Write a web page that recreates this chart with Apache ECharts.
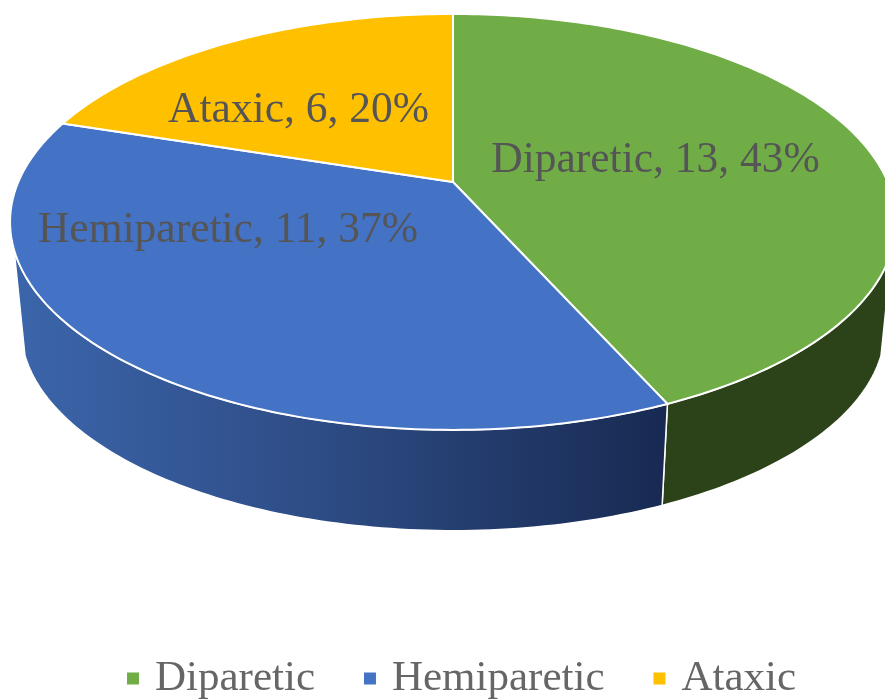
<!DOCTYPE html>
<html>
<head>
<meta charset="utf-8">
<style>html,body{margin:0;padding:0;background:#fff}#chart{width:885px;height:699px}</style>
<script src="https://cdn.jsdelivr.net/npm/echarts@6/dist/echarts.min.js"></script>
</head>
<body>
<div id="chart"></div>
<script>
const categories = ['Diparetic', 'Hemiparetic', 'Ataxic'];
const counts = [13, 11, 6];
const percents = [43, 37, 20];

// Styling and layout, separate from the data
const topColors = ['#70AD47', '#4472C4', '#FFC000'];
const labelCentres = [[655.5, 161], [228, 231], [298.5, 111]];
const labelFont = '43.5px "Liberation Serif", serif';
const labelColor = '#555555';
const topPlane = { cx: 453, cy: 182, rx: 434.7, ry: 200.3, k: 0.192 };
const basePlane = { cx: 453, cy: 289, rx: 424, ry: 195.3, k: 0.192 };
const wallFrom = 108.6, wallTo = 251.4; // visible front of the side wall, degrees

const wallFills = [
  '#2C4319',
  new echarts.graphic.LinearGradient(20, 0, 665, 0, [
    { offset: 0, color: '#3B65AA' },
    { offset: 0.43, color: '#2F4E88' },
    { offset: 1, color: '#182A52' }
  ], true)
];

const total = counts.reduce((a, b) => a + b, 0);
const starts = counts.map((_, i) => counts.slice(0, i).reduce((a, b) => a + b, 0) / total * 360);

function project(plane, deg) {
  const t = deg * Math.PI / 180;
  const u = Math.sin(t), v = Math.cos(t);
  const d = 1 + plane.k * v;
  return [plane.cx + plane.rx * u / d, plane.cy - plane.ry * v / d];
}
function arc(plane, a, b) {
  const n = Math.max(2, Math.ceil(Math.abs(b - a)));
  const pts = [];
  for (let i = 0; i <= n; i++) pts.push(project(plane, a + (b - a) * i / n));
  return pts;
}

function renderSlice(index) {
  return function (params, api) {
    const a0 = starts[index];
    const a1 = a0 + api.value(0) / total * 360;
    const children = [];
    const wa = Math.max(a0, wallFrom), wb = Math.min(a1, wallTo);
    if (wb > wa) {
      const wall = arc(topPlane, wa, wb).concat(arc(basePlane, wb, wa));
      children.push({
        type: 'polygon',
        shape: { points: wall },
        style: { fill: wallFills[index], stroke: '#ffffff', lineWidth: 1.5 }
      });
    }
    const top = [[topPlane.cx, topPlane.cy]].concat(arc(topPlane, a0, a1));
    children.push({
      type: 'polygon',
      shape: { points: top },
      style: { fill: topColors[index], stroke: '#ffffff', lineWidth: 2 }
    });
    children.push({
      type: 'text',
      z2: 10,
      style: {
        text: categories[index] + ', ' + api.value(0) + ', ' + percents[index] + '%',
        x: labelCentres[index][0],
        y: labelCentres[index][1],
        fill: labelColor,
        font: labelFont,
        textAlign: 'center',
        textVerticalAlign: 'middle'
      }
    });
    return { type: 'group', children: children };
  };
}

const chart = echarts.init(document.getElementById('chart'), null, { renderer: 'canvas' });
chart.setOption({
  backgroundColor: '#ffffff',
  animation: false,
  legend: {
    data: categories,
    left: 127,
    top: 657,
    icon: 'rect',
    itemWidth: 12,
    itemHeight: 12,
    itemGap: 49,
    padding: 0,
    textStyle: {
      fontFamily: '"Liberation Serif", serif',
      fontSize: 43,
      color: '#666666',
      padding: [0, 0, 0, 11]
    }
  },
  series: categories.map((name, i) => ({
    type: 'custom',
    name: name,
    coordinateSystem: 'none',
    itemStyle: { color: topColors[i] },
    data: [[counts[i]]],
    renderItem: renderSlice(i),
    silent: true,
    clip: false
  }))
});
</script>
</body>
</html>
